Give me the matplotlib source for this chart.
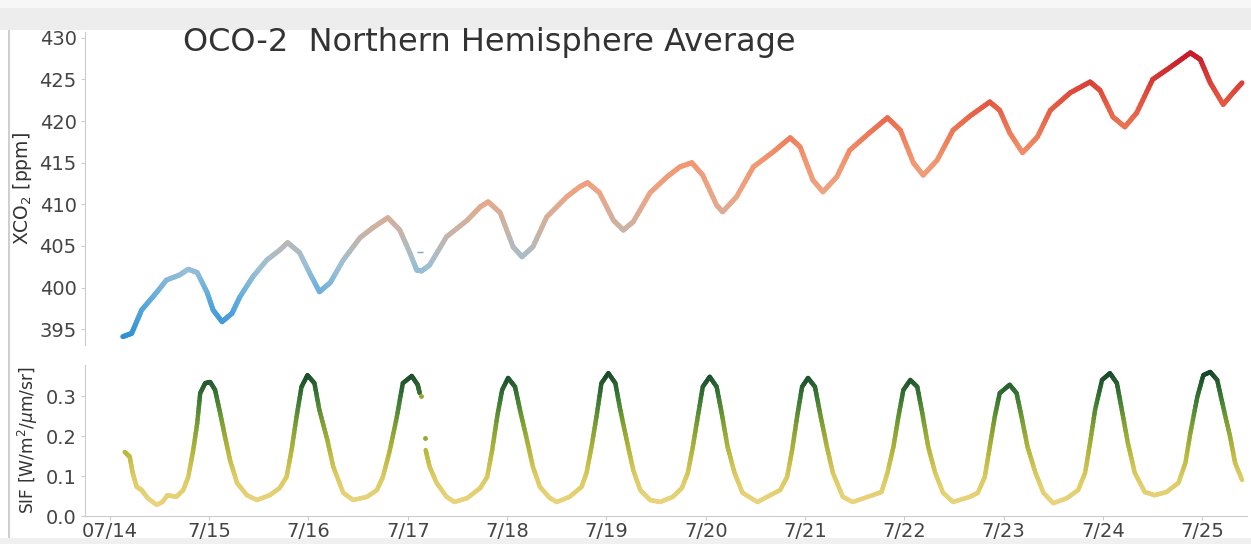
import matplotlib
matplotlib.use("Agg")
import matplotlib.pyplot as plt
import numpy as np
from matplotlib.collections import LineCollection
from matplotlib.colors import LinearSegmentedColormap
from matplotlib.patches import Rectangle

# time in days of July
co2_day = [14.13, 14.22, 14.32, 14.47, 14.57, 14.70, 14.79, 14.88, 14.98, 15.04,
           15.13, 15.23, 15.31, 15.44, 15.58, 15.71, 15.79, 15.91, 16.01, 16.11,
           16.22, 16.35, 16.52, 16.65, 16.80, 16.92, 17.02, 17.09, 17.14, 17.22,
           17.39, 17.60, 17.73, 17.81, 17.93, 18.06, 18.15, 18.26, 18.40, 18.60,
           18.73, 18.81, 18.93, 19.07, 19.17, 19.27, 19.44, 19.61, 19.74, 19.86,
           19.97, 20.11, 20.17, 20.31, 20.48, 20.68, 20.85, 20.95, 21.08, 21.18,
           21.32, 21.45, 21.65, 21.83, 21.96, 22.09, 22.19, 22.33, 22.49, 22.66,
           22.86, 22.96, 23.06, 23.19, 23.34, 23.47, 23.67, 23.87, 23.97, 24.10,
           24.22, 24.34, 24.50, 24.67, 24.88, 24.98, 25.08, 25.21, 25.31, 25.40]
co2_ppm = [394.1, 394.5, 397.3, 399.4, 400.9, 401.5, 402.2, 401.8, 399.4, 397.3,
           395.9, 396.9, 398.9, 401.3, 403.3, 404.5, 405.4, 404.2, 401.8, 399.5,
           400.6, 403.3, 406.0, 407.2, 408.4, 406.9, 404.2, 402.1, 402.0, 402.7,
           406.1, 408.1, 409.7, 410.3, 409.0, 404.9, 403.7, 404.9, 408.5, 410.9,
           412.1, 412.6, 411.4, 408.1, 406.9, 407.9, 411.4, 413.3, 414.5, 415.0,
           413.5, 409.9, 409.1, 410.9, 414.5, 416.3, 418.0, 416.9, 412.9, 411.5,
           413.3, 416.5, 418.6, 420.4, 418.9, 415.0, 413.5, 415.3, 418.9, 420.6,
           422.3, 421.3, 418.6, 416.2, 418.1, 421.3, 423.4, 424.7, 423.7, 420.5,
           419.3, 421.0, 425.0, 426.4, 428.2, 427.4, 424.6, 422.0, 423.4, 424.6]
co2_stray_day = [17.12]
co2_stray_ppm = [404.3]

sif_day_a = [14.15, 14.20, 14.23, 14.27, 14.32, 14.38, 14.47, 14.53, 14.58, 14.67,
             14.74, 14.79, 14.84, 14.88, 14.91, 14.96, 15.01, 15.06, 15.11, 15.16,
             15.21, 15.28, 15.38, 15.48, 15.61, 15.71, 15.78, 15.83, 15.88, 15.93,
             15.99, 16.06, 16.11, 16.19, 16.25, 16.35, 16.45, 16.59, 16.69, 16.75,
             16.82, 16.89, 16.95, 17.04, 17.10, 17.12]
sif_val_a = [0.160, 0.148, 0.108, 0.073, 0.065, 0.045, 0.028, 0.035, 0.052, 0.048,
             0.065, 0.098, 0.165, 0.232, 0.307, 0.332, 0.335, 0.315, 0.258, 0.198,
             0.140, 0.083, 0.052, 0.040, 0.052, 0.070, 0.098, 0.165, 0.248, 0.323,
             0.352, 0.332, 0.265, 0.190, 0.123, 0.058, 0.040, 0.048, 0.065, 0.098,
             0.165, 0.248, 0.332, 0.350, 0.328, 0.307]
sif_day_b = [17.18, 17.22, 17.29, 17.39, 17.47, 17.60, 17.73, 17.80, 17.85, 17.90,
             17.95, 18.01, 18.08, 18.13, 18.20, 18.26, 18.33, 18.43, 18.50, 18.63,
             18.75, 18.80, 18.85, 18.90, 18.95, 19.02, 19.09, 19.14, 19.21, 19.27,
             19.34, 19.44, 19.54, 19.67, 19.76, 19.82, 19.87, 19.92, 19.97, 20.04,
             20.11, 20.16, 20.22, 20.29, 20.37, 20.52, 20.65, 20.75, 20.82, 20.87,
             20.92, 20.97, 21.03, 21.10, 21.15, 21.22, 21.28, 21.38, 21.48, 21.68,
             21.77, 21.83, 21.89, 21.94, 21.99, 22.06, 22.13, 22.18, 22.24, 22.31,
             22.39, 22.49, 22.66, 22.74, 22.81, 22.86, 22.91, 22.96, 23.06, 23.13,
             23.18, 23.24, 23.32, 23.40, 23.50, 23.64, 23.75, 23.82, 23.87, 23.92,
             23.99, 24.07, 24.14, 24.19, 24.25, 24.32, 24.42, 24.52, 24.64, 24.76,
             24.83, 24.88, 24.95, 25.01, 25.08, 25.15, 25.21, 25.28, 25.33, 25.40]
sif_val_b = [0.165, 0.123, 0.083, 0.048, 0.035, 0.045, 0.070, 0.098, 0.165, 0.248,
             0.315, 0.345, 0.323, 0.265, 0.190, 0.123, 0.073, 0.045, 0.035, 0.048,
             0.073, 0.108, 0.173, 0.248, 0.332, 0.357, 0.332, 0.265, 0.183, 0.115,
             0.065, 0.040, 0.035, 0.048, 0.070, 0.108, 0.173, 0.248, 0.323, 0.348,
             0.323, 0.258, 0.173, 0.108, 0.058, 0.035, 0.052, 0.065, 0.098, 0.165,
             0.248, 0.323, 0.345, 0.323, 0.258, 0.173, 0.108, 0.048, 0.035, 0.052,
             0.060, 0.108, 0.173, 0.248, 0.315, 0.340, 0.323, 0.258, 0.173, 0.108,
             0.058, 0.035, 0.048, 0.058, 0.098, 0.173, 0.248, 0.307, 0.328, 0.307,
             0.248, 0.173, 0.108, 0.058, 0.032, 0.045, 0.065, 0.108, 0.183, 0.265,
             0.340, 0.357, 0.332, 0.265, 0.183, 0.108, 0.060, 0.052, 0.060, 0.083,
             0.133, 0.208, 0.298, 0.352, 0.360, 0.340, 0.273, 0.198, 0.133, 0.090]
sif_dots_day = [17.13, 17.17]
sif_dots_val = [0.300, 0.195]

tick_days = list(range(14, 26))
tick_labels = ["07/14"] + ["7/%d" % d for d in range(15, 26)]

co2_cmap = LinearSegmentedColormap.from_list(
    "co2", ["#2f8fd4", "#5aaadd", "#9cc0d6", "#c8b4a6", "#eba686",
            "#f39670", "#ec7352", "#df4a3a", "#c81a2a"])
sif_cmap = LinearSegmentedColormap.from_list(
    "sif", ["#ead47e", "#dccb62", "#b6b63c", "#7ea032", "#3b7a34", "#17472a"])


def colored_line(ax, x, y, cmap, vmin, vmax, lw, pieces=8):
    # each straight piece between two read points is drawn in a few short
    # strokes so the colour can follow the value smoothly along it
    x = np.asarray(x)
    y = np.asarray(y)
    segs, vals = [], []
    for i in range(len(x) - 1):
        for k in range(pieces):
            a, b = k / pieces, (k + 1) / pieces
            x0, x1 = x[i] + a * (x[i + 1] - x[i]), x[i] + b * (x[i + 1] - x[i])
            y0, y1 = y[i] + a * (y[i + 1] - y[i]), y[i] + b * (y[i + 1] - y[i])
            segs.append([(x0, y0), (x1, y1)])
            vals.append((y0 + y1) / 2)
    lc = LineCollection(segs, cmap=cmap, norm=plt.Normalize(vmin, vmax),
                        linewidths=lw, capstyle="round", joinstyle="round")
    lc.set_array(np.array(vals))
    ax.add_collection(lc)
    return lc


fig = plt.figure(figsize=(12.51, 5.44), dpi=100)
fig.patch.set_facecolor("white")

W, H = 1251, 544
ax1 = fig.add_axes([85 / W, 1 - 345 / H, 1162 / W, 313 / H])
ax2 = fig.add_axes([85 / W, 1 - 516 / H, 1162 / W, 151 / H])

xlim = (13.75, 25.45)

colored_line(ax1, co2_day, co2_ppm, co2_cmap, 394, 428, 3.6)
ax1.plot(co2_stray_day, co2_stray_ppm, marker="_", ms=5, color="#7aa8c8", ls="none")
ax1.set_xlim(*xlim)
ax1.set_ylim(393.1, 430.7)
ax1.set_yticks([395, 400, 405, 410, 415, 420, 425, 430])
ax1.set_xticks([])
ax1.set_ylabel("XCO$_2$ [ppm]", fontsize=13.5, color="#333333", labelpad=4)

colored_line(ax2, sif_day_a, sif_val_a, sif_cmap, 0.03, 0.36, 3.2)
colored_line(ax2, sif_day_b, sif_val_b, sif_cmap, 0.03, 0.36, 3.2)
ax2.plot(sif_dots_day, sif_dots_val, "o", ms=2.5, color="#9aa838", ls="none")
ax2.set_xlim(*xlim)
ax2.set_ylim(0.0, 0.3775)
ax2.set_yticks([0.0, 0.1, 0.2, 0.3])
ax2.set_xticks(tick_days)
ax2.set_xticklabels(tick_labels)
ax2.set_ylabel(r"SIF [W/m$^2$/$\mu$m/sr]", fontsize=12.3, color="#333333", labelpad=4)

for ax in (ax1, ax2):
    for s in ("top", "right"):
        ax.spines[s].set_visible(False)
    ax.spines["left"].set_color("#cccccc")
    ax.spines["bottom"].set_color("#cccccc")
    ax.tick_params(labelsize=14, colors="#cccccc", labelcolor="#444444",
                   length=3, pad=3)
ax1.spines["bottom"].set_visible(False)
ax2.tick_params(axis="x", pad=1)

fig.text(183 / W, 1 - 42 / H, "OCO-2  Northern Hemisphere Average",
         fontsize=23, color="#333333", ha="left", va="center")

# screenshot frame
fig.add_artist(Rectangle((0, 1 - 8 / H), 1, 8 / H, transform=fig.transFigure,
                         color="#f7f7f7", lw=0, zorder=-1))
fig.add_artist(Rectangle((0, 1 - 30 / H), 1, 22 / H, transform=fig.transFigure,
                         color="#ededed", lw=0, zorder=-1))
fig.add_artist(Rectangle((0, 0), 1, 6 / H, transform=fig.transFigure,
                         color="#f0f0f0", lw=0, zorder=-1))
fig.add_artist(Rectangle((8 / W, 6 / H), 2 / W, 508 / H, transform=fig.transFigure,
                         color="#cfcfcf", lw=0, zorder=-1))

fig.savefig("out.png", dpi=100)
